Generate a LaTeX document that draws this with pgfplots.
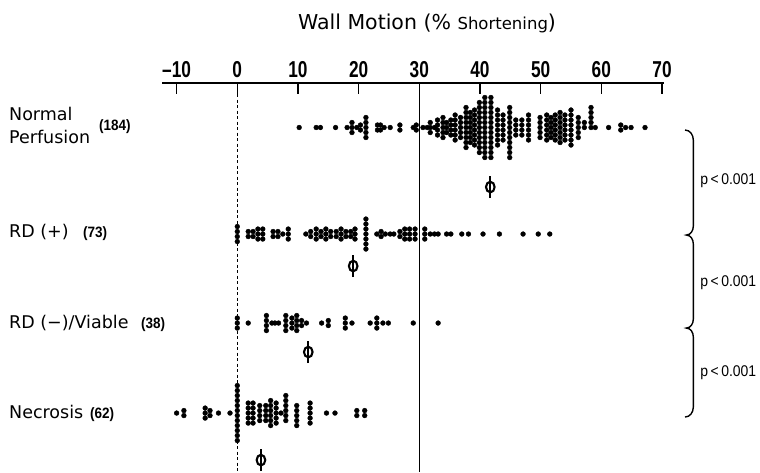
\documentclass[border=0pt]{standalone}
\usepackage{fontspec}
\setmainfont{DejaVu Sans}
\newfontfamily\tickfont[FakeStretch=0.75]{Liberation Sans}
\newfontfamily\numfont[FakeStretch=0.9]{Liberation Sans}
\usepackage{pgfplots}
\pgfplotsset{compat=1.18}
\usepackage{pgfplotstable}

% x = % shortening, o = stacking position of the dot in its column
\pgfplotstableread[row sep=\\]{
x o\\
10.2 0\\ 13.0 0\\ 13.7 0\\ 16.2 0\\ 18.1 0\\
18.9 -1\\ 18.9 0\\ 18.9 1\\ 19.7 0\\ 20.3 -0.5\\ 20.3 0.5\\
21.2 -2\\ 21.2 -1\\ 21.2 0\\ 21.2 1\\ 21.2 2\\
23.1 -0.5\\ 23.1 0.5\\ 23.6 -0.5\\ 23.6 0.5\\ 24.2 0\\ 25.2 0\\
26.8 -0.5\\ 26.8 0.5\\ 29.0 0\\ 29.5 -0.5\\ 29.5 0.5\\
30.6 0\\ 31.3 0\\ 31.8 -1\\ 31.8 0\\ 31.8 1\\ 32.5 0\\
33.0 -1.5\\ 33.0 -0.5\\ 33.0 0.5\\ 33.0 1.5\\
33.9 -2\\ 33.9 -1\\ 33.9 0\\ 33.9 1\\ 33.9 2\\
34.5 -1\\ 34.5 0\\ 34.5 1\\
35.2 -1.5\\ 35.2 -0.5\\ 35.2 0.5\\ 35.2 1.5\\
35.9 -2.5\\ 35.9 -1.5\\ 35.9 -0.5\\ 35.9 0.5\\ 35.9 1.5\\ 35.9 2.5\\
36.8 -2\\ 36.8 -1\\ 36.8 0\\ 36.8 1\\ 36.8 2\\
37.7 -4\\ 37.7 -3\\ 37.7 -2\\ 37.7 -1\\ 37.7 0\\ 37.7 1\\ 37.7 2\\ 37.7 3\\ 37.7 4\\
38.4 -3\\ 38.4 -2\\ 38.4 -1\\ 38.4 0\\ 38.4 1\\ 38.4 2\\ 38.4 3\\
39.1 -3.5\\ 39.1 -2.5\\ 39.1 -1.5\\ 39.1 -0.5\\ 39.1 0.5\\ 39.1 1.5\\ 39.1 2.5\\ 39.1 3.5\\
39.9 -5\\ 39.9 -4\\ 39.9 -3\\ 39.9 -2\\ 39.9 -1\\ 39.9 0\\ 39.9 1\\ 39.9 2\\ 39.9 3\\ 39.9 4\\ 39.9 5\\
40.8 -6\\ 40.8 -5\\ 40.8 -4\\ 40.8 -3\\ 40.8 -2\\ 40.8 -1\\ 40.8 0\\ 40.8 1\\ 40.8 2\\ 40.8 3\\ 40.8 4\\ 40.8 5\\ 40.8 6\\
41.8 -6\\ 41.8 -5\\ 41.8 -4\\ 41.8 -3\\ 41.8 -2\\ 41.8 -1\\ 41.8 0\\ 41.8 1\\ 41.8 2\\ 41.8 3\\ 41.8 4\\ 41.8 5\\ 41.8 6\\
42.9 -3.5\\ 42.9 -2.5\\ 42.9 -1.5\\ 42.9 -0.5\\ 42.9 0.5\\ 42.9 1.5\\ 42.9 2.5\\ 42.9 3.5\\
43.8 -2.5\\ 43.8 -1.5\\ 43.8 -0.5\\ 43.8 0.5\\ 43.8 1.5\\ 43.8 2.5\\
44.9 -4\\ 44.9 -3\\ 44.9 -2\\ 44.9 -1\\ 44.9 0\\ 44.9 1\\ 44.9 2\\ 44.9 3\\ 44.9 4\\ 44.9 5\\ 44.9 6\\
45.9 -1.5\\ 45.9 -0.5\\ 45.9 0.5\\ 45.9 1.5\\
46.9 -1.5\\ 46.9 -0.5\\ 46.9 0.5\\ 46.9 1.5\\
48.0 -2.5\\ 48.0 -1.5\\ 48.0 -0.5\\ 48.0 0.5\\ 48.0 1.5\\ 48.0 2.5\\
49.9 -2\\ 49.9 -1\\ 49.9 0\\ 49.9 1\\ 49.9 2\\
51.0 -2.5\\ 51.0 -1.5\\ 51.0 -0.5\\ 51.0 0.5\\ 51.0 1.5\\ 51.0 2.5\\
51.7 -2\\ 51.7 -1\\ 51.7 0\\ 51.7 1\\ 51.7 2\\
52.4 -2.5\\ 52.4 -1.5\\ 52.4 -0.5\\ 52.4 0.5\\ 52.4 1.5\\ 52.4 2.5\\
53.2 -3\\ 53.2 -2\\ 53.2 -1\\ 53.2 0\\ 53.2 1\\ 53.2 2\\ 53.2 3\\
54.0 -2.5\\ 54.0 -1.5\\ 54.0 -0.5\\ 54.0 0.5\\ 54.0 1.5\\ 54.0 2.5\\
55.0 -3.5\\ 55.0 -2.5\\ 55.0 -1.5\\ 55.0 -0.5\\ 55.0 0.5\\ 55.0 1.5\\ 55.0 2.5\\ 55.0 3.5\\
56.2 -2\\ 56.2 -1\\ 56.2 0\\ 56.2 1\\ 56.2 2\\
57.2 -1\\ 57.2 0\\
58.3 -4\\ 58.3 -3\\ 58.3 -2\\ 58.3 -1\\ 58.3 0\\
59.0 0\\ 61.2 0\\ 63.2 -0.5\\ 63.2 0.5\\ 64.0 0\\ 64.9 0\\ 67.2 0\\
}\tabNormal

\pgfplotstableread[row sep=\\]{
x o\\
0 -1.5\\ 0 -0.5\\ 0 0.5\\ 0 1.5\\
1.8 -0.5\\ 1.8 0.5\\ 2.6 -0.5\\ 2.6 0.5\\ 3.4 -1\\ 3.4 0\\ 3.4 1\\ 4.2 -1\\ 4.2 0\\ 4.2 1\\
5.9 -0.5\\ 5.9 0.5\\ 6.7 -0.5\\ 6.7 0.5\\ 7.5 0\\ 8.4 -1\\ 8.4 0\\ 8.4 1\\
11.3 0\\ 12.1 -0.5\\ 12.1 0.5\\ 13.0 -1\\ 13.0 0\\ 13.0 1\\ 13.8 -0.5\\ 13.8 0.5\\
14.6 -1\\ 14.6 0\\ 14.6 1\\ 15.4 -0.5\\ 15.4 0.5\\ 16.3 -0.5\\ 16.3 0.5\\
17.1 -1\\ 17.1 0\\ 17.1 1\\ 17.9 -0.5\\ 17.9 0.5\\ 18.7 -0.5\\ 18.7 0.5\\ 19.4 -1\\ 19.4 0\\ 19.4 1\\
21.2 -3\\ 21.2 -2\\ 21.2 -1\\ 21.2 0\\ 21.2 1\\ 21.2 2\\ 21.2 3\\
23.0 0\\ 23.7 -0.5\\ 23.7 0.5\\ 24.4 0\\ 25.2 0\\ 25.8 0\\ 26.8 -0.5\\ 26.8 0.5\\
27.6 -1\\ 27.6 0\\ 27.6 1\\ 28.4 -1\\ 28.4 0\\ 28.4 1\\ 29.3 -1\\ 29.3 0\\ 29.3 1\\
30.9 -1\\ 30.9 0\\ 30.9 1\\ 31.8 0\\ 32.5 0\\ 33.1 0\\ 34.5 0\\ 35.2 0\\ 37.0 0\\ 38.1 0\\
40.5 0\\ 43.2 0\\ 47.1 0\\ 49.6 0\\ 51.5 0\\
}\tabRDplus

\pgfplotstableread[row sep=\\]{
x o\\
0 -1\\ 0 0\\ 0 1\\ 1.8 0\\
4.8 -1.5\\ 4.8 -0.5\\ 4.8 0.5\\ 4.8 1.5\\ 5.7 0\\ 6.2 0\\ 6.8 0\\
8.0 -1.5\\ 8.0 -0.5\\ 8.0 0.5\\ 8.0 1.5\\ 9.0 -1\\ 9.0 0\\ 9.0 1\\
9.8 -1.5\\ 9.8 -0.5\\ 9.8 0.5\\ 9.8 1.5\\ 10.6 -0.5\\ 10.6 0.5\\ 11.4 0\\
13.9 0\\ 15.0 -0.5\\ 15.0 0.5\\ 17.8 -1\\ 17.8 0\\ 17.8 1\\ 18.9 0\\
21.9 0\\ 23.0 -1\\ 23.0 0\\ 23.0 1\\ 24.0 0\\ 24.9 0\\ 29.0 0\\ 33.1 0\\
}\tabRDminus

\pgfplotstableread[row sep=\\]{
x o\\
-10.0 0\\ -8.8 -0.5\\ -8.8 0.5\\ -5.3 -1\\ -5.3 0\\ -5.3 1\\ -4.5 -0.5\\ -4.5 0.5\\ -3.1 0\\ -1.2 0\\
0 -5.5\\ 0 -4.5\\ 0 -3.5\\ 0 -2.5\\ 0 -1.5\\ 0 -0.5\\ 0 0.5\\ 0 1.5\\ 0 2.5\\ 0 3.5\\ 0 4.5\\ 0 5.5\\
1.8 -2\\ 1.8 -1\\ 1.8 0\\ 1.8 1\\ 1.8 2\\
2.6 -2\\ 2.6 -1\\ 2.6 0\\ 2.6 1\\ 2.6 2\\
3.7 -1.5\\ 3.7 -0.5\\ 3.7 0.5\\ 3.7 1.5\\
4.7 -1.5\\ 4.7 -0.5\\ 4.7 0.5\\ 4.7 1.5\\
5.5 -2.5\\ 5.5 -1.5\\ 5.5 -0.5\\ 5.5 0.5\\ 5.5 1.5\\ 5.5 2.5\\
6.4 -2\\ 6.4 -1\\ 6.4 0\\ 6.4 1\\ 6.4 2\\
7.2 0\\
8.0 -3.5\\ 8.0 -2.5\\ 8.0 -1.5\\ 8.0 -0.5\\ 8.0 0.5\\ 8.0 1.5\\
9.8 -1.5\\ 9.8 -0.5\\ 9.8 0.5\\ 9.8 1.5\\ 9.8 2.5\\
12.0 -2\\ 12.0 -1\\ 12.0 0\\ 12.0 1\\ 12.0 2\\
14.7 0\\ 16.1 0\\ 19.7 -0.5\\ 19.7 0.5\\ 21.0 -0.5\\ 21.0 0.5\\
}\tabNecrosis

\pgfdeclareplotmark{phi}{%
  \pgfpathellipse{\pgfpointorigin}{\pgfpoint{4.3pt}{0pt}}{\pgfpoint{0pt}{5.3pt}}%
  \pgfusepathqstroke
  \pgfpathmoveto{\pgfpoint{0pt}{-11pt}}%
  \pgfpathlineto{\pgfpoint{0pt}{11pt}}%
  \pgfusepathqstroke}

\begin{document}
\begin{tikzpicture}
\begin{axis}[
  scale only axis,
  width=501.7pt, height=389pt,
  xmin=-12.4, xmax=70.3, ymin=-472, ymax=-83,
  axis x line*=top, axis y line=none,
  axis line style={line width=2.5pt, black},
  xtick={-10,0,...,70},
  xticklabels={\textendash10,0,10,20,30,40,50,60,70},
  tick align=inside, major tick length=11pt,
  xtick style={line width=1.5pt, black},
  xticklabel style={font=\tickfont\bfseries\fontsize{23}{23}\selectfont, anchor=base, inner sep=0pt, yshift=6pt},
  clip=false,
]
% reference lines
\addplot[black, line width=1.2pt, dash pattern=on 3pt off 2.5pt] coordinates {(0,-83) (0,-472)};
\addplot[black, line width=1.6pt] coordinates {(30,-83) (30,-472)};

% dots
\addplot[only marks, mark=*, mark size=2.4pt, black] table[x=x, y expr={-127.5-5*(\thisrow{o})}] {\tabNormal};
\addplot[only marks, mark=*, mark size=2.4pt, black] table[x=x, y expr={-234-5*(\thisrow{o})}] {\tabRDplus};
\addplot[only marks, mark=*, mark size=2.4pt, black] table[x=x, y expr={-323-5*(\thisrow{o})}] {\tabRDminus};
\addplot[only marks, mark=*, mark size=2.4pt, black] table[x=x, y expr={-413-5*(\thisrow{o})}] {\tabNecrosis};

% means
\addplot[only marks, mark=phi, mark options={line width=2.1pt, black}] coordinates {(41.7,-187) (19.1,-266) (11.7,-352) (3.9,-460)};

% title
\node[anchor=base, inner sep=0pt, font=\fontsize{20.5}{24}\selectfont] at (axis cs:31.27,-30)
  {Wall Motion (\% {\fontsize{16.5}{20}\selectfont Shortening})};

% group labels
\begin{scope}[every node/.style={anchor=base west, inner sep=0pt, font=\fontsize{17.5}{20}\selectfont}]
\node at (axis cs:-37.63,-120) {Normal};
\node at (axis cs:-37.63,-143) {Perfusion};
\node at (axis cs:-37.63,-237) {RD (+)};
\node at (axis cs:-37.63,-328) {RD (−)/Viable};
\node at (axis cs:-37.63,-418) {Necrosis};
\end{scope}
\begin{scope}[every node/.style={anchor=base west, inner sep=0pt, font=\numfont\bfseries\fontsize{15}{17}\selectfont}]
\node at (axis cs:-22.80,-130) {(184)};
\node at (axis cs:-25.43,-237) {(73)};
\node at (axis cs:-15.87,-328) {(38)};
\node at (axis cs:-24.28,-418) {(62)};
\end{scope}

% braces
\draw[line width=1.4pt] (axis cs:73.79,-130) to[out=0,in=90] (axis cs:75.16,-140)
  -- (axis cs:75.16,-226) to[out=-90,in=0] (axis cs:74.0,-235)
  to[out=0,in=90] (axis cs:75.16,-244) -- (axis cs:75.16,-319)
  to[out=-90,in=0] (axis cs:74.0,-328)
  to[out=0,in=90] (axis cs:75.16,-337) -- (axis cs:75.16,-407)
  to[out=-90,in=0] (axis cs:73.79,-417);

\begin{scope}[every node/.style={anchor=base west, inner sep=0pt, font=\numfont\fontsize{15.5}{17}\selectfont}]
\node at (axis cs:76.27,-184) {p\,<\,0.001};
\node at (axis cs:76.27,-286) {p\,<\,0.001};
\node at (axis cs:76.27,-376) {p\,<\,0.001};
\end{scope}

% picture extent
\path (axis cs:-39.11,0) rectangle (axis cs:86.15,-472);
\end{axis}
\end{tikzpicture}
\end{document}
